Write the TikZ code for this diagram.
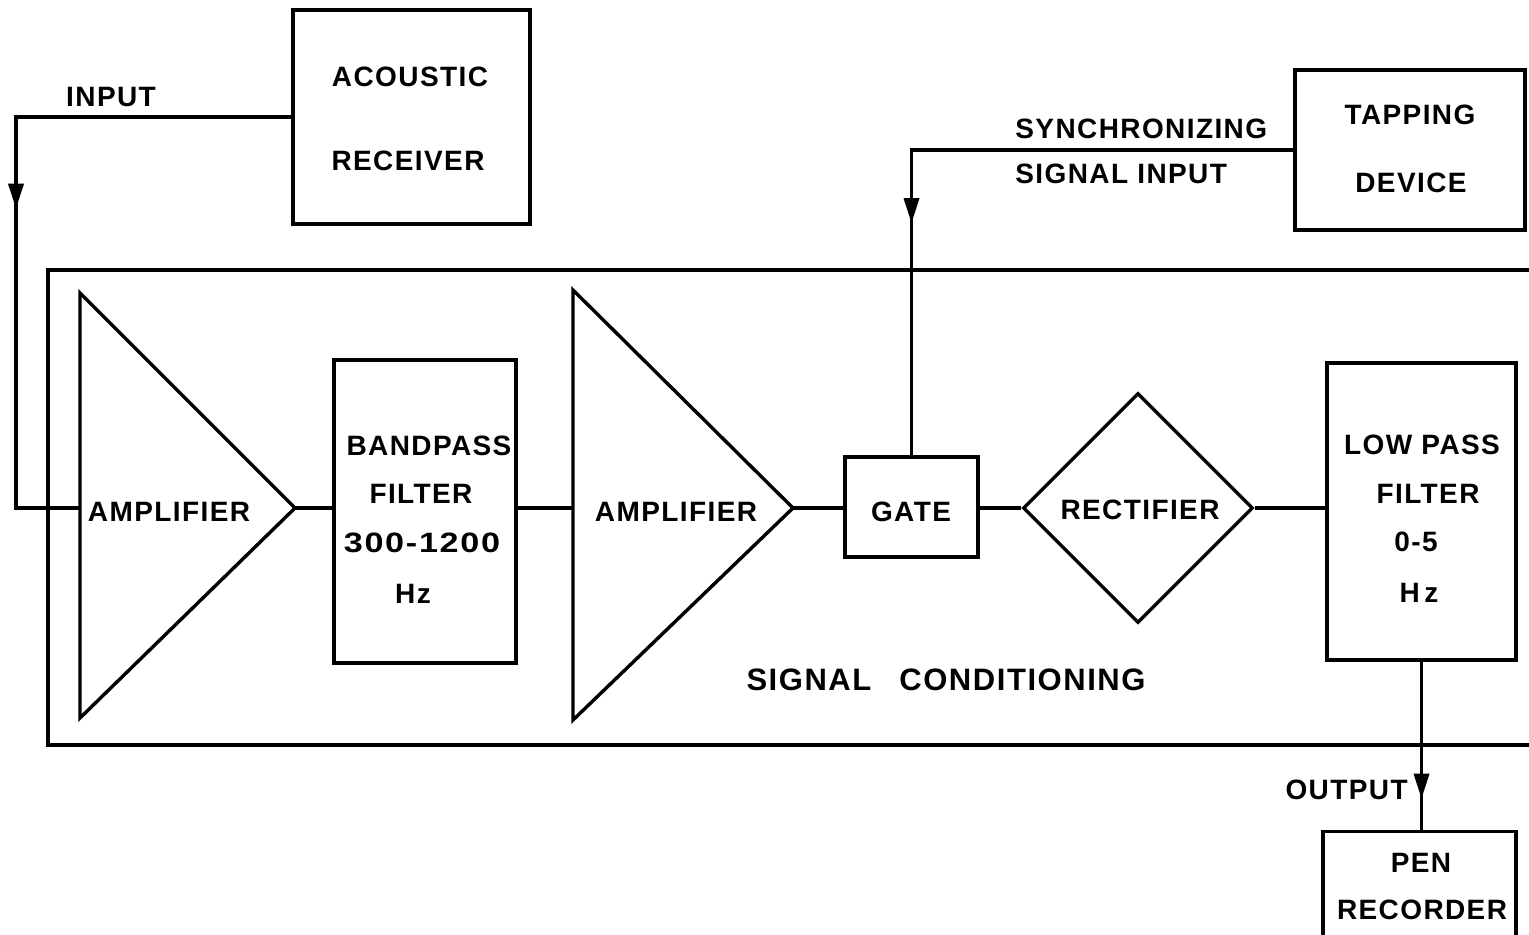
\documentclass[tikz,border=0pt]{standalone}
\usepackage{fontspec}
\setmainfont{Liberation Sans}[LetterSpace=5]
\usetikzlibrary{arrows.meta,shapes.geometric,decorations.markings}
\begin{document}
\begin{tikzpicture}[x=0.5pt,y=-0.5pt,
  every node/.style={font=\fontsize{14}{17}\selectfont\bfseries},
  ln/.style={line width=1.7pt},
  box/.style={draw,line width=1.7pt,inner sep=0pt,align=center},
  lbl/.style={inner sep=0pt,align=center},
  midarrow/.style={decoration={markings,mark=at position #1 with {\arrow{Triangle[length=12.5pt,width=7.5pt]}}},postaction=decorate}
]
\useasboundingbox (0,0) rectangle (1529,934);
\clip (0,0) rectangle (1529,934);

% outer frame
\draw[ln] (1535,270) -- (48,270) -- (48,745) -- (1535,745);

% boxes
\node[box,minimum width=118.5pt,minimum height=107pt] (ac) at (411.5,117) {};
\node[lbl] (actext1) at (410,77) {ACOUSTIC};
\node[lbl] (actext2) at (408,161) {RECEIVER};

\node[box,minimum width=115pt,minimum height=80pt] (tap) at (1410,150) {};
\node[lbl] (taptext1) at (1410,115) {TAPPING};
\node[lbl] (taptext2) at (1411,183) {DEVICE};

\node[box,minimum width=91pt,minimum height=151.5pt] (bp) at (425,511.5) {};
\node[lbl] (bpt1) at (429,446) {BANDPASS};
\node[lbl] (bpt2) at (421,494) {FILTER};
\node[lbl] (bpt3) at (422,543) {\scalebox{1.22}[1]{300-1200}};
\node[lbl] (bpt4) at (413,594) {Hz};

\node[box,minimum width=66.5pt,minimum height=50pt] (gate) at (911.5,507) {};
\node[lbl] (gatetext) at (911,512) {GATE};

\node[draw,diamond,line width=1.7pt,inner sep=0pt,minimum size=115pt] (rect) at (1138,508) {};
\node[lbl] (recttext) at (1140,510) {RECTIFIER};

\node[box,minimum width=94.5pt,minimum height=148.5pt] (lp) at (1421.5,511.5) {};
\node[lbl] (lpt1) at (1422,445) {LOW PASS};
\node[lbl] (lpt2) at (1428,494) {FILTER};
\node[lbl] (lpt3) at (1416,542) {0-5};
\node[lbl] (lpt4) at (1419,593) {H\,z};

\node[box,minimum width=96.5pt,minimum height=80pt,anchor=north] (pen) at (1419.5,830) {};
\node[lbl] (pent1) at (1421,863) {PEN};
\node[lbl] (pent2) at (1422,910) {RECORDER};

% amplifiers
\draw[ln,line join=miter] (80,293) -- (295,508) -- (80,718) -- cycle;
\coordinate (a1in) at (80,508);
\coordinate (a1out) at (295,508);
\node[lbl] (a1text) at (169,512) {AMPLIFIER};

\draw[ln,line join=miter] (573,290) -- (793,508) -- (573,720) -- cycle;
\coordinate (a2in) at (573,508);
\coordinate (a2out) at (793,508);
\node[lbl] (a2text) at (676,512) {AMPLIFIER};

% connectors
\coordinate (inturn) at (16,508);
\draw[ln,midarrow=183.5pt] (ac.west) -| (inturn) -- (a1in);
\draw[ln] (a1out) -- (a1out -| bp.west);
\draw[ln] (a2in -| bp.east) -- (a2in);
\draw[ln] (a2out) -- (a2out -| gate.west);
\draw[ln] (gate.east |- rect.west) -- (rect.west);
\draw[ln] (rect.east) -- (rect.east -| lp.west);
\draw[ln,midarrow=227.5pt] (tap.west) -| (gate.north);
\draw[ln,midarrow=68.5pt] (lp.south) -- (lp.south |- pen.north);

% labels
\node[lbl] (inlbl) at (111,97) {INPUT};
\node[lbl,anchor=west] (sync1) at (1015,129) {SYNCHRONIZING};
\node[lbl,anchor=west] (sync2) at (1015,174) {SIGNAL INPUT};
\node[lbl,anchor=east] (outlbl) at (1408,790) {OUTPUT};
\node[lbl,font=\fontsize{15.5}{18}\selectfont\bfseries] (sc) at (946,680) {SIGNAL\hspace{14pt}CONDITIONING};
\end{tikzpicture}
\end{document}
